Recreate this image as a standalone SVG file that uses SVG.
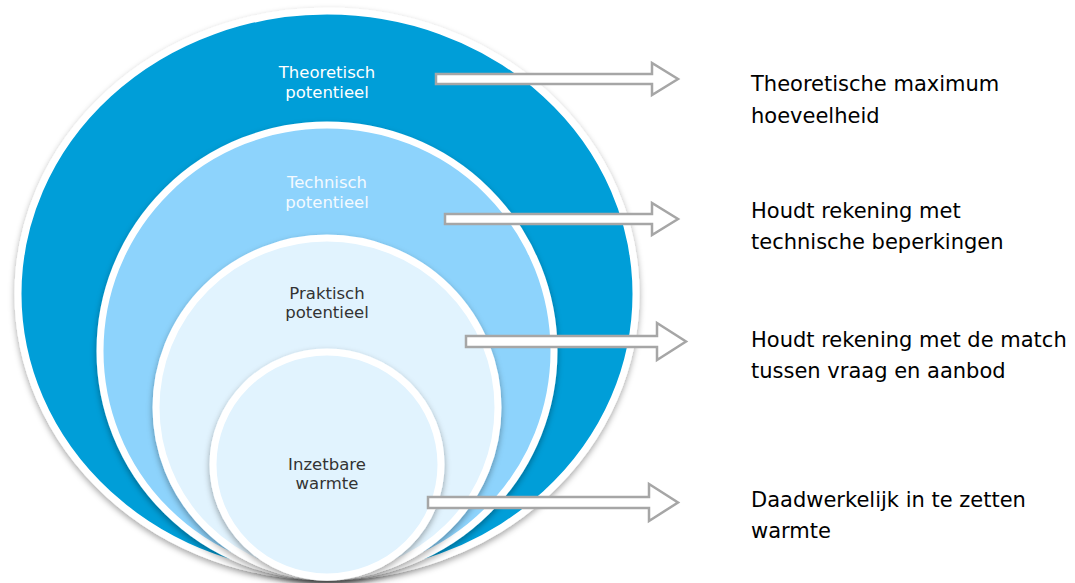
<svg xmlns="http://www.w3.org/2000/svg" width="1075" height="583" viewBox="0 0 1075 583">
<style>
.ring{stroke:#FFFFFF;stroke-width:7;filter:url(#sh)}
.lbl{font-family:"DejaVu Sans",sans-serif;font-size:16.5px;text-anchor:middle}
.desc{font-family:"DejaVu Sans",sans-serif;font-size:21px;fill:#000000}
.arr{fill:#FFFFFF;stroke:#A6A6A6;stroke-width:2.5;stroke-linejoin:miter}
</style>
<defs>
<filter id="sh" x="-10%" y="-10%" width="120%" height="125%">
<feDropShadow dx="0" dy="3" stdDeviation="3" flood-color="#000000" flood-opacity="0.35"/>
</filter>
</defs>
<rect width="1075" height="583" fill="#FFFFFF"/>
<g id="theoretisch">
<ellipse class="ring" cx="327" cy="294" rx="309" ry="283" fill="#009ED8"/>
<text class="lbl" fill="#FFFFFF"><tspan x="327" y="78">Theoretisch</tspan><tspan x="327" y="98">potentieel</tspan></text>
</g>
<g id="technisch">
<ellipse class="ring" cx="327" cy="351" rx="227" ry="226" fill="#8DD3FC"/>
<text class="lbl" fill="#F4FAFF"><tspan x="327" y="188">Technisch</tspan><tspan x="327" y="208">potentieel</tspan></text>
</g>
<g id="praktisch">
<ellipse class="ring" cx="327" cy="407.5" rx="171" ry="169.5" fill="#E1F3FE"/>
<text class="lbl" fill="#333333"><tspan x="327" y="299">Praktisch</tspan><tspan x="327" y="318">potentieel</tspan></text>
</g>
<g id="inzetbaar">
<ellipse class="ring" cx="327" cy="464.5" rx="114" ry="112.5" fill="#E1F3FE"/>
<text class="lbl" fill="#333333"><tspan x="327" y="470">Inzetbare</tspan><tspan x="327" y="489">warmte</tspan></text>
</g>
<g id="connectors">
<polygon class="arr" points="436,74 652,74 652,63 678,79 652,95 652,84 436,84"/>
<polygon class="arr" points="445,214 652,214 652,203 678,219 652,235 652,224 445,224"/>
<polygon class="arr" points="466,336 657,336 657,323 686,341.5 657,360 657,347 466,347"/>
<polygon class="arr" points="428,497 649,497 649,484 678,502.5 649,521 649,508 428,508"/>
</g>
<g id="desc1"><text class="desc"><tspan x="751" y="91">Theoretische maximum</tspan><tspan x="751" y="123">hoeveelheid</tspan></text></g>
<g id="desc2"><text class="desc"><tspan x="751" y="218">Houdt rekening met</tspan><tspan x="751" y="249">technische beperkingen</tspan></text></g>
<g id="desc3"><text class="desc"><tspan x="751" y="347">Houdt rekening met de match</tspan><tspan x="751" y="378">tussen vraag en aanbod</tspan></text></g>
<g id="desc4"><text class="desc"><tspan x="751" y="507">Daadwerkelijk in te zetten</tspan><tspan x="751" y="538">warmte</tspan></text></g>
</svg>
